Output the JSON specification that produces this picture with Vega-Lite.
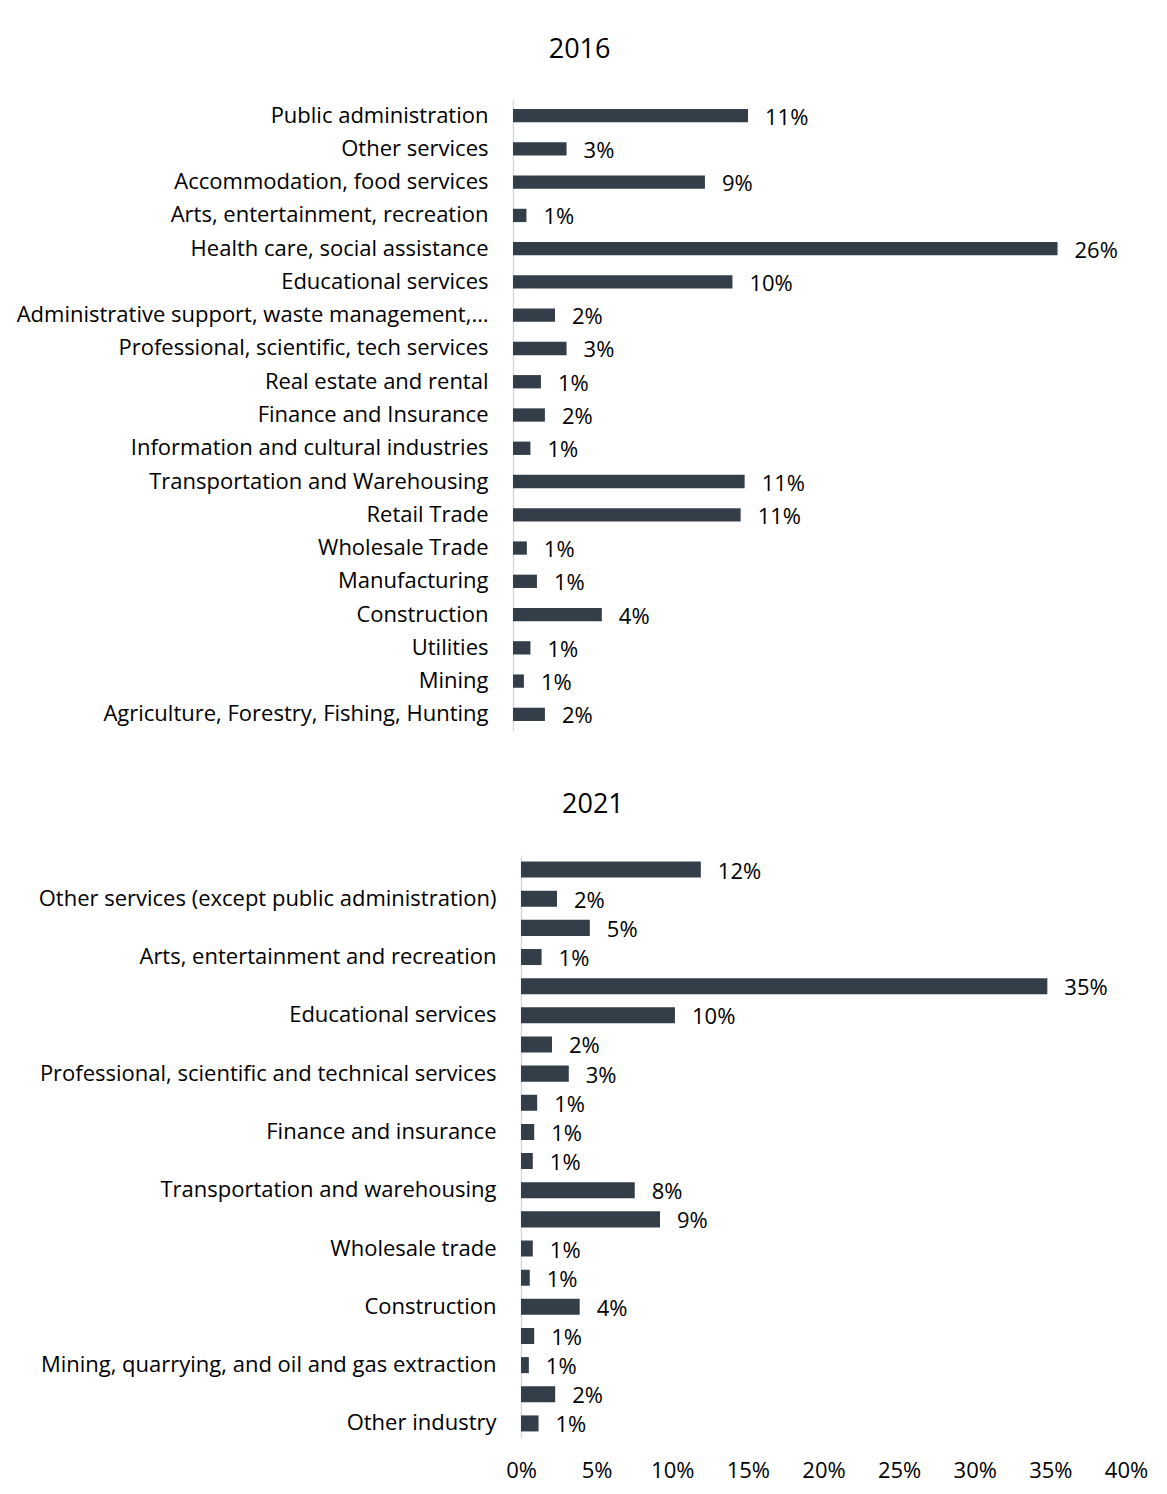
{
  "$schema": "https://vega.github.io/schema/vega-lite/v6.json",
  "background": "white",
  "padding": {"left": 16, "top": 36, "right": 5, "bottom": 5},
  "config": {
    "font": "Open Sans",
    "view": {"stroke": null},
    "axis": {"labelFont": "Open Sans", "labelFontSize": 22, "labelColor": "#000000", "title": null, "ticks": false, "grid": false},
    "title": {"font": "Open Sans", "fontSize": 27, "fontWeight": "normal", "color": "#000000", "anchor": "middle", "frame": "bounds"}
  },
  "spacing": 60,
  "vconcat": [
    {
      "title": {"text": "2016", "offset": 35},
      "width": 630,
      "height": 632,
      "data": {"values": [
        {"industry": "Public administration", "share": 0.1119},
        {"industry": "Other services", "share": 0.0255},
        {"industry": "Accommodation, food services", "share": 0.0914},
        {"industry": "Arts, entertainment, recreation", "share": 0.0064},
        {"industry": "Health care, social assistance", "share": 0.2593},
        {"industry": "Educational services", "share": 0.1045},
        {"industry": "Administrative support, waste management, remediation services", "share": 0.0200},
        {"industry": "Professional, scientific, tech services", "share": 0.0255},
        {"industry": "Real estate and rental", "share": 0.0133},
        {"industry": "Finance and Insurance", "share": 0.0152},
        {"industry": "Information and cultural industries", "share": 0.0083},
        {"industry": "Transportation and Warehousing", "share": 0.1103},
        {"industry": "Retail Trade", "share": 0.1084},
        {"industry": "Wholesale Trade", "share": 0.0066},
        {"industry": "Manufacturing", "share": 0.0114},
        {"industry": "Construction", "share": 0.0423},
        {"industry": "Utilities", "share": 0.0083},
        {"industry": "Mining", "share": 0.0052},
        {"industry": "Agriculture, Forestry, Fishing,  Hunting", "share": 0.0152}
      ]},
      "encoding": {
        "y": {
          "field": "industry", "type": "nominal", "sort": null,
          "scale": {"paddingInner": 0.6, "paddingOuter": 0.3},
          "axis": {"domainColor": "#d5dbe3", "domainWidth": 1.5, "labelPadding": 25, "labelLimit": 474}
        },
        "x": {"field": "share", "type": "quantitative", "scale": {"domain": [0, 0.3], "nice": false}, "axis": null}
      },
      "layer": [
        {"mark": {"type": "bar", "color": "#343e49"}},
        {
          "mark": {"type": "text", "align": "left", "baseline": "middle", "dx": 17, "dy": 2, "fontSize": 22, "color": "#000000"},
          "encoding": {"text": {"field": "share", "type": "quantitative", "format": ".0%"}}
        }
      ]
    },
    {
      "title": {"text": "2021", "offset": 36},
      "width": 605,
      "height": 583,
      "data": {"values": [
        {"industry": "Public administration", "share": 0.1189},
        {"industry": "Other services (except public administration)", "share": 0.0238},
        {"industry": "Accommodation and food services", "share": 0.0455},
        {"industry": "Arts, entertainment and recreation", "share": 0.0136},
        {"industry": "Health care and social assistance", "share": 0.348},
        {"industry": "Educational services", "share": 0.1018},
        {"industry": "Administrative and support, waste management and remediation services", "share": 0.0205},
        {"industry": "Professional, scientific and technical services", "share": 0.0316},
        {"industry": "Real estate and rental and leasing", "share": 0.0107},
        {"industry": "Finance and insurance", "share": 0.0087},
        {"industry": "Information and cultural industries", "share": 0.0078},
        {"industry": "Transportation and warehousing", "share": 0.0752},
        {"industry": "Retail trade", "share": 0.0919},
        {"industry": "Wholesale trade", "share": 0.0078},
        {"industry": "Manufacturing", "share": 0.0058},
        {"industry": "Construction", "share": 0.0388},
        {"industry": "Utilities", "share": 0.0087},
        {"industry": "Mining, quarrying, and oil and gas extraction", "share": 0.0052},
        {"industry": "Agriculture, forestry, fishing and hunting", "share": 0.0226},
        {"industry": "Other industry", "share": 0.0116}
      ]},
      "encoding": {
        "y": {
          "field": "industry", "type": "nominal", "sort": null,
          "scale": {"paddingInner": 0.45, "paddingOuter": 0.225},
          "axis": {"domainColor": "#d5dbe3", "domainWidth": 1.5, "labelPadding": 25, "labelLimit": 490, "offset": -8,
                   "labelExpr": "round(datum.index * 19) % 2 == 1 ? datum.label : ''"}
        },
        "x": {
          "field": "share", "type": "quantitative",
          "scale": {"domain": [0, 0.4], "nice": false, "range": [8, 613]},
          "axis": {"values": [0, 0.05, 0.1, 0.15, 0.2, 0.25, 0.3, 0.35, 0.4], "format": ".0%", "domain": false,
                   "labelPadding": 22, "labelFlush": false}
        }
      },
      "layer": [
        {"mark": {"type": "bar", "color": "#343e49"}},
        {
          "mark": {"type": "text", "align": "left", "baseline": "middle", "dx": 17, "dy": 2, "fontSize": 22, "color": "#000000"},
          "encoding": {"text": {"field": "share", "type": "quantitative", "format": ".0%"}}
        }
      ]
    }
  ]
}
